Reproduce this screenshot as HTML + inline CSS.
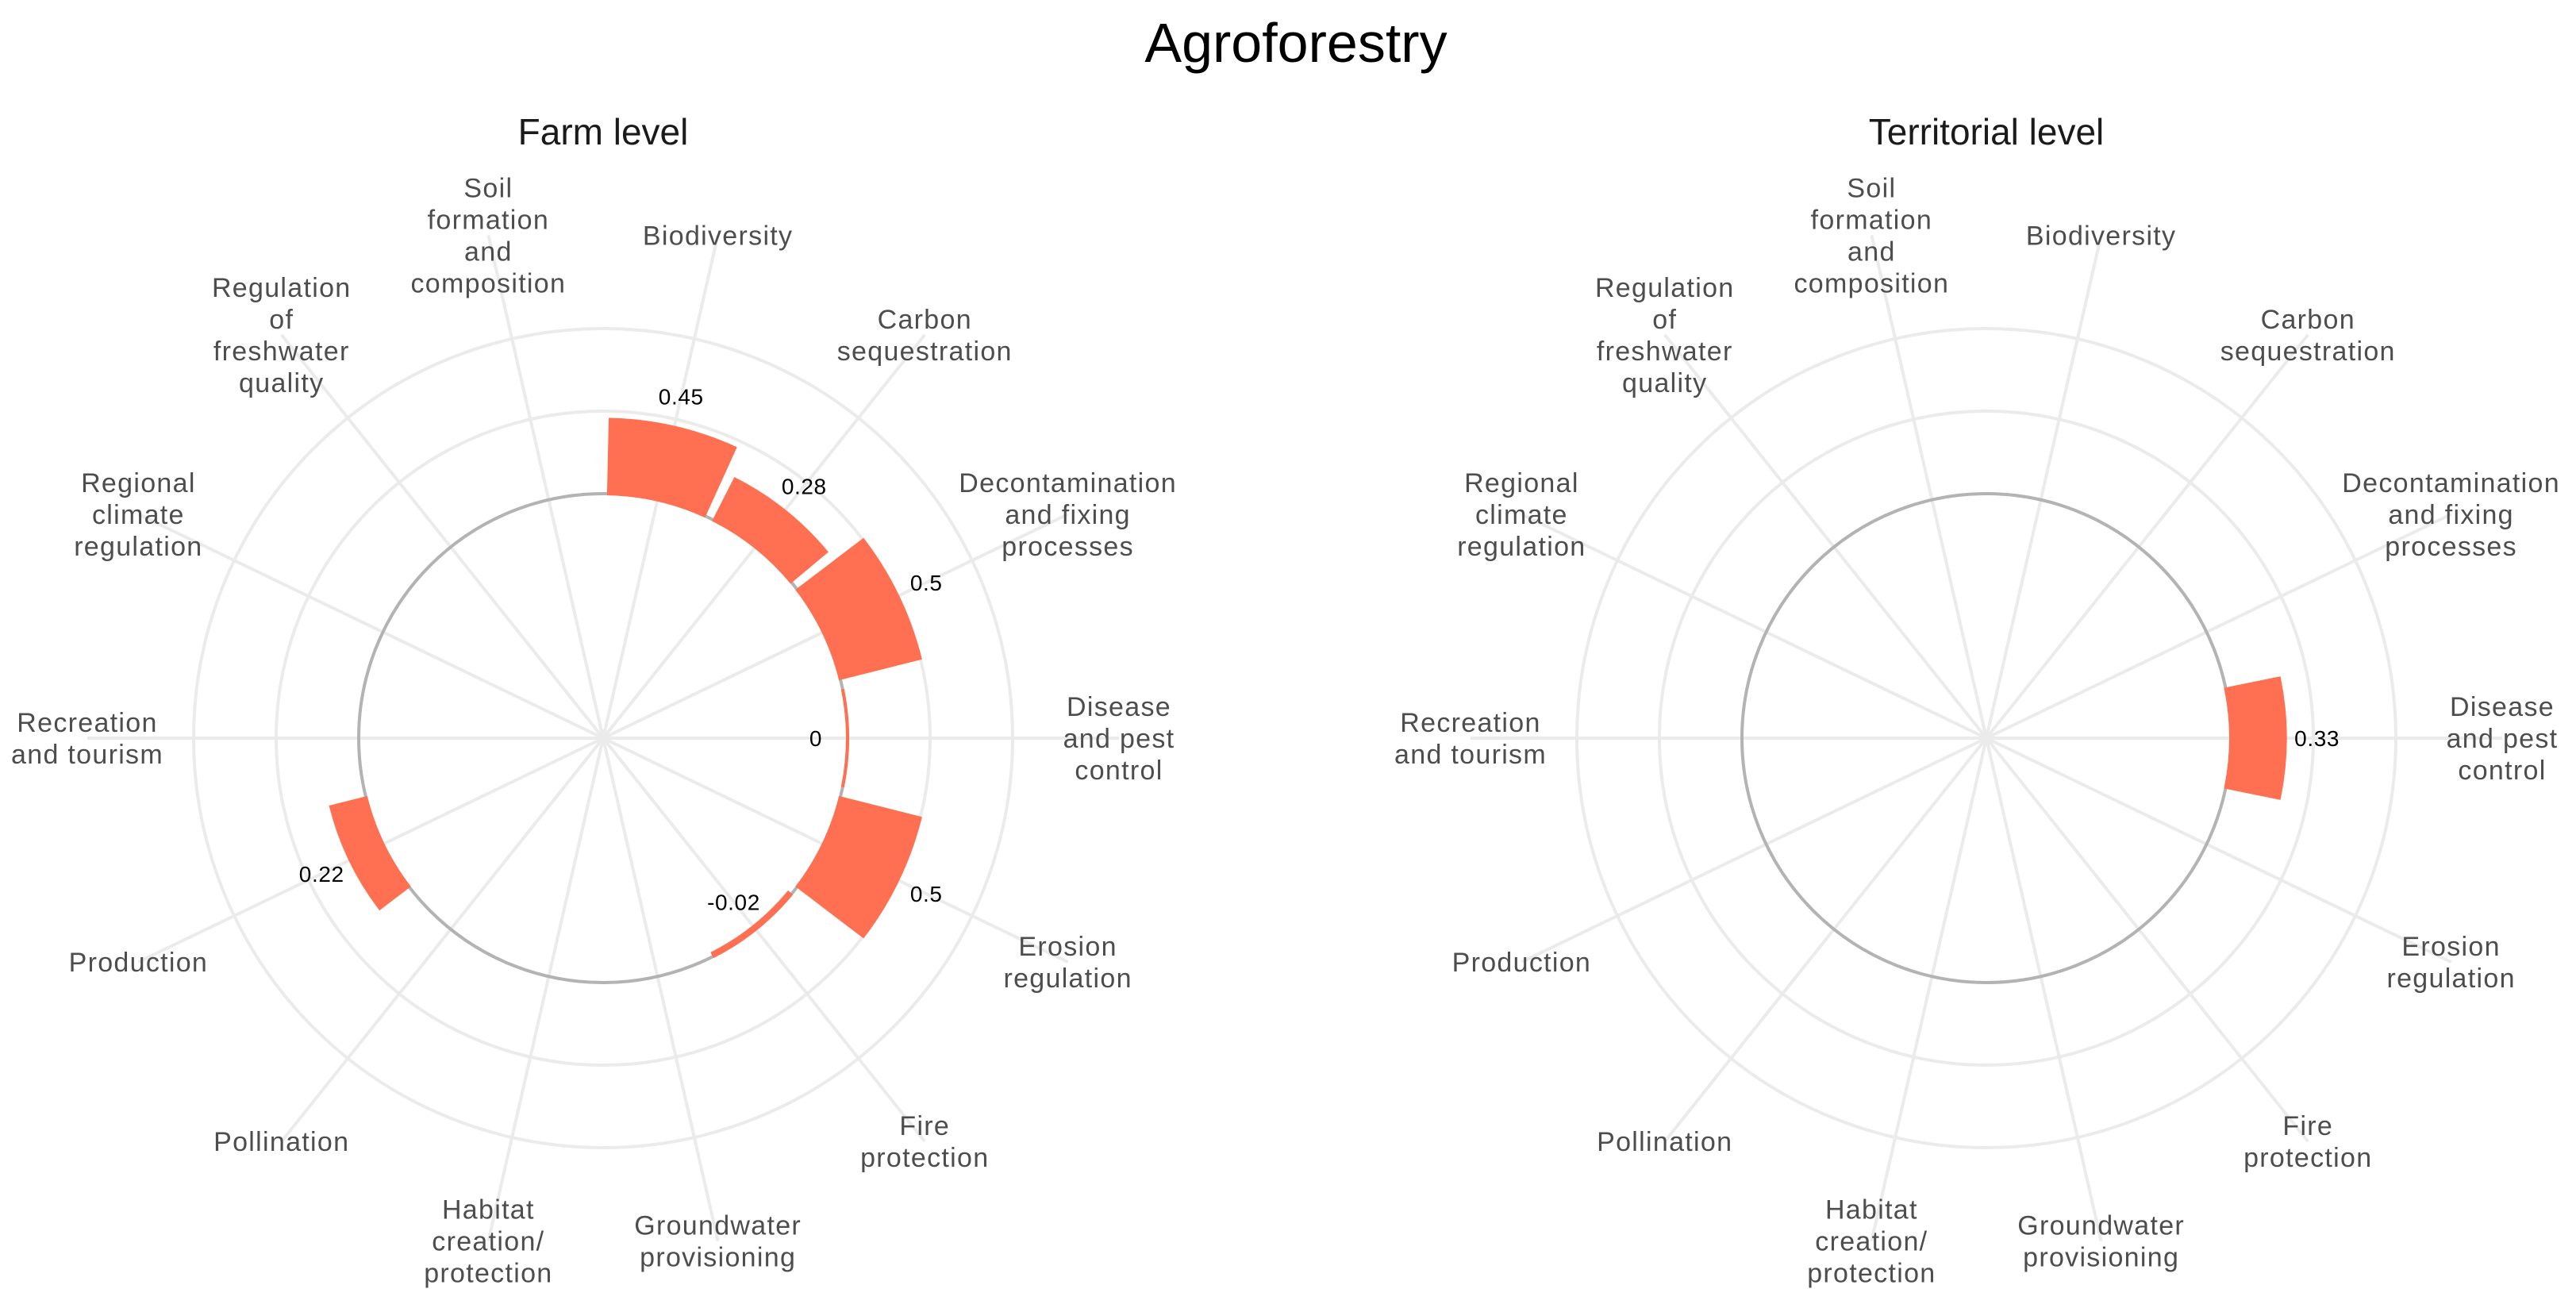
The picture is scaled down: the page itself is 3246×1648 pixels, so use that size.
<!DOCTYPE html>
<html><head><meta charset="utf-8"><style>
html,body{margin:0;padding:0;background:#fff;}
svg{display:block;font-family:"Liberation Sans",Arial,sans-serif;}
</style></head><body>
<svg id="chart" width="3246" height="1648" viewBox="0 0 3246 1648" xmlns="http://www.w3.org/2000/svg">
<rect width="3246" height="1648" fill="#fff"/>
<text x="1633" y="78" font-size="70" text-anchor="middle" fill="#000">Agroforestry</text>
<text x="760" y="182" font-size="46" text-anchor="middle" fill="#1a1a1a">Farm level</text>
<text x="2503" y="182" font-size="46" text-anchor="middle" fill="#1a1a1a">Territorial level</text>
<g id="farm"></g>
<g id="terr"></g>
</svg>
<script>
const categories = [["Biodiversity"],["Carbon","sequestration"],["Decontamination","and fixing","processes"],["Disease","and pest","control"],["Erosion","regulation"],["Fire","protection"],["Groundwater","provisioning"],["Habitat","creation/","protection"],["Pollination"],["Production"],["Recreation","and tourism"],["Regional","climate","regulation"],["Regulation","of","freshwater","quality"],["Soil","formation","and","composition"]];
const farmValues = [0.45,0.28,0.5,0,0.5,-0.02,null,null,null,0.22,null,null,null,null];
const farmLabels = ["0.45","0.28","0.5","0","0.5","-0.02",null,null,null,"0.22",null,null,null,null];
const terrValues = [null,null,null,0.33,null,null,null,null,null,null,null,null,null,null];
const terrLabels = [null,null,null,"0.33",null,null,null,null,null,null,null,null,null,null];
const gridValues = [0.5,1.0];

const NS="http://www.w3.org/2000/svg";
const R0=308, K=208, CY=930;
function rScale(v){return R0+K*v;}
function aScale(i){return (i+0.5)*2*Math.PI/categories.length;}
function pt(cx,a,r){return [cx+r*Math.sin(a), CY-r*Math.cos(a)];}
function mk(tag,attrs,parent){const e=document.createElementNS(NS,tag);for(const k in attrs)e.setAttribute(k,attrs[k]);parent.appendChild(e);return e;}

function panel(gid,cx,values,labels){
  const g=document.getElementById(gid);
  const n=categories.length, step=2*Math.PI/n;
  gridValues.forEach(v=>{
    const c=mk('circle',{cx:cx,cy:CY,r:rScale(v),fill:'none',stroke:'#ebebeb','stroke-width':4},g);
    
    
  });
  categories.forEach((c,i)=>{
    const [x,y]=pt(cx,aScale(i),650);
    const l=mk('line',{x1:cx,y1:CY,x2:x,y2:y,stroke:'#ebebeb','stroke-width':4},g);
    
    
  });
  const base=mk('circle',{cx:cx,cy:CY,r:R0,fill:'none',stroke:'#b3b3b3','stroke-width':4},g);
  
  
  values.forEach((v,i)=>{
    if(v===null)return;
    const a=aScale(i), h=step*0.45;
    const a0=a-h, a1=a+h, r1=rScale(v);
    const p0=pt(cx,a0,R0),p1=pt(cx,a1,R0),q1=pt(cx,a1,r1),q0=pt(cx,a0,r1);
    const d=`M${p0[0]},${p0[1]} A${R0},${R0} 0 0 1 ${p1[0]},${p1[1]} L${q1[0]},${q1[1]} A${r1},${r1} 0 0 0 ${q0[0]},${q0[1]} Z`;
    const b=mk('path',{d:d,fill:'#ff7052',stroke:'#ff7052','stroke-width':4,'stroke-linejoin':'miter'},g);
    
    
  });
  values.forEach((v,i)=>{
    if(v===null||labels[i]===null)return;
    const r=v>0?rScale(v)+40:rScale(v)-40;
    const [x,y]=pt(cx,aScale(i),r);
    const t=mk('text',{x:x,y:y+10,'font-size':28,'letter-spacing':0.6,'text-anchor':'middle',fill:'#000'},g);
    t.textContent=labels[i];
    
    
  });
  categories.forEach((lines,i)=>{
    const [x,y]=pt(cx,aScale(i),650);
    const lh=40, top=y-(lines.length-1)*lh/2+12;
    const t=mk('text',{'font-size':34,'letter-spacing':1.3,'text-anchor':'middle',fill:'#4d4d4d'},g);
    
    
    lines.forEach((s,j)=>{
      const ts=mk('tspan',{x:x,y:top+j*lh},t);
      ts.textContent=s;
    });
  });
}
panel('farm',760,farmValues,farmLabels);
panel('terr',2503,terrValues,terrLabels);
</script>
</body></html>
